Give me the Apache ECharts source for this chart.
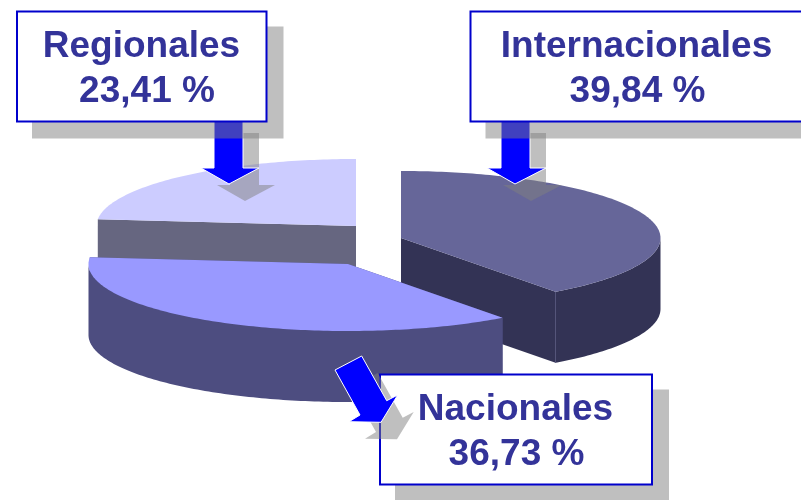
<!DOCTYPE html>
<html lang="en">
<head>
    <meta charset="UTF-8">
    <title>Regionales, Internacionales, Nacionales</title>
    <style>
        html, body { margin: 0; padding: 0; background: #fff; }
        #main { width: 801px; height: 500px; }
    </style>
    <script src="https://cdn.jsdelivr.net/npm/echarts@6/dist/echarts.min.js"></script>
</head>
<body>
<div id="main"></div>
<script>
    // values, drawn back to front
    var categories = ['Regionales', 'Internacionales', 'Nacionales'];
    var shares = [23.41, 39.84, 36.73];

    // slice look and where each exploded slice sits
    var topColors = ['#ccccff', '#666699', '#9999ff'];
    var sideColors = ['#666680', '#333355', '#4d4d80'];
    var centers = [[356, 226], [401, 238], [348, 264]];
    var rx = 259.5, ry = 67, depth = 71;

    // callouts: outer box, arrow outline, text centres
    var callouts = [
        {
            box: [16, 10.5, 251.5, 112],
            arrow: [[214, 116], [243, 116], [243, 168], [259, 168], [229, 184], [201, 168], [214, 168]],
            shadowOffset: [16, 17],
            textX: [141.5, 147], textY: [47, 92]
        },
        {
            box: [469.5, 10.5, 360, 112],
            arrow: [[501, 116], [530, 116], [530, 168], [546, 168], [515, 184], [487, 168], [501, 168]],
            shadowOffset: [16, 17],
            textX: [636.5, 637.5], textY: [47, 92]
        },
        {
            box: [379, 373.5, 274, 112],
            arrow: [[335, 370], [361.7, 356], [386.7, 400.7], [397.7, 395], [381, 422.3], [349, 421.7], [360, 415]],
            shadowOffset: [16, 17],
            arrowOnTop: true,
            textX: [515.5, 516.5], textY: [410, 455]
        }
    ];

    var shadowColor = 'rgba(128,128,128,0.5)';
    var total = shares.reduce(function (a, b) { return a + b; }, 0);

    // slice start angle in degrees, clockwise from 12 o'clock; Internacionales starts at 0
    var startAngles = [-shares[0] / total * 360];
    for (let i = 1; i < shares.length; i++) {
        startAngles[i] = startAngles[i - 1] + shares[i - 1] / total * 360;
    }

    function rimPoint(c, deg, drop) {
        var a = deg * Math.PI / 180;
        return [c[0] + rx * Math.sin(a), c[1] - ry * Math.cos(a) + (drop || 0)];
    }

    function renderSlice(params, api) {
        var i = params.dataIndex;
        var c = centers[i];
        var from = startAngles[i];
        var to = from + api.value(0) / total * 360;
        var children = [];

        // cut faces
        [from, to].forEach(function (deg) {
            var p = rimPoint(c, deg);
            children.push({
                type: 'polygon',
                shape: { points: [c, p, [p[0], p[1] + depth], [c[0], c[1] + depth]] },
                style: { fill: sideColors[i] }
            });
        });

        // outer wall, only the front half of the rim shows
        var wallFrom = Math.max(from, 90), wallTo = Math.min(to, 270);
        if (wallTo > wallFrom) {
            var upper = [], lower = [];
            for (let d = wallFrom; d <= wallTo; d += 1) {
                upper.push(rimPoint(c, d));
                lower.unshift(rimPoint(c, d, depth));
            }
            upper.push(rimPoint(c, wallTo));
            lower.unshift(rimPoint(c, wallTo, depth));
            children.push({
                type: 'polygon',
                shape: { points: upper.concat(lower) },
                style: { fill: sideColors[i] }
            });
            // faint crease where the wall meets the cut face
            if (wallTo === to) {
                var e = rimPoint(c, to);
                children.push({
                    type: 'line',
                    shape: { x1: e[0], y1: e[1], x2: e[0], y2: e[1] + depth },
                    style: { stroke: '#55557a', lineWidth: 1 }
                });
            }
        }

        // top face
        var top = [c];
        for (let d = from; d < to; d += 1) {
            top.push(rimPoint(c, d));
        }
        top.push(rimPoint(c, to));
        children.push({
            type: 'polygon',
            shape: { points: top },
            style: { fill: topColors[i] }
        });

        return { type: 'group', children: children };
    }

    function moved(points, off) {
        return points.map(function (p) { return [p[0] + off[0], p[1] + off[1]]; });
    }

    function pctLabel(v) {
        return v.toFixed(2).replace('.', ',') + ' %';
    }

    var elements = [];
    callouts.forEach(function (o, i) {
        var b = o.box;
        var arrowParts = [
            { type: 'polygon', z: 10, shape: { points: moved(o.arrow, o.shadowOffset) }, style: { fill: shadowColor } },
            { type: 'polygon', z: 10, shape: { points: o.arrow }, style: { fill: '#0000ff', stroke: '#ffffff', lineWidth: 1 } }
        ];
        var boxParts = [
            { type: 'rect', z: 10, shape: { x: b[0] + 16, y: b[1] + 16, width: b[2], height: b[3] }, style: { fill: shadowColor } },
            { type: 'rect', z: 10, shape: { x: b[0] + 1, y: b[1] + 1, width: b[2] - 2, height: b[3] - 2 }, style: { fill: '#ffffff', stroke: '#0000cc', lineWidth: 2 } }
        ];
        var parts = o.arrowOnTop ? boxParts.concat(arrowParts) : arrowParts.concat(boxParts);
        elements = elements.concat(parts);
        [categories[i], pctLabel(shares[i])].forEach(function (line, k) {
            elements.push({
                type: 'text', z: 11, x: o.textX[k], y: o.textY[k],
                style: {
                    text: line, fill: '#333399', align: 'center', verticalAlign: 'middle',
                    font: 'bold 37px "Liberation Sans", Arial, sans-serif'
                }
            });
        });
    });

    var chart = echarts.init(document.getElementById('main'), null, { renderer: 'canvas' });
    chart.setOption({
        animation: false,
        backgroundColor: '#ffffff',
        series: [{
            type: 'custom',
            coordinateSystem: 'none',
            z: 1,
            silent: true,
            renderItem: renderSlice,
            data: shares.map(function (v) { return [v]; })
        }],
        graphic: { elements: elements }
    });
</script>
</body>
</html>
